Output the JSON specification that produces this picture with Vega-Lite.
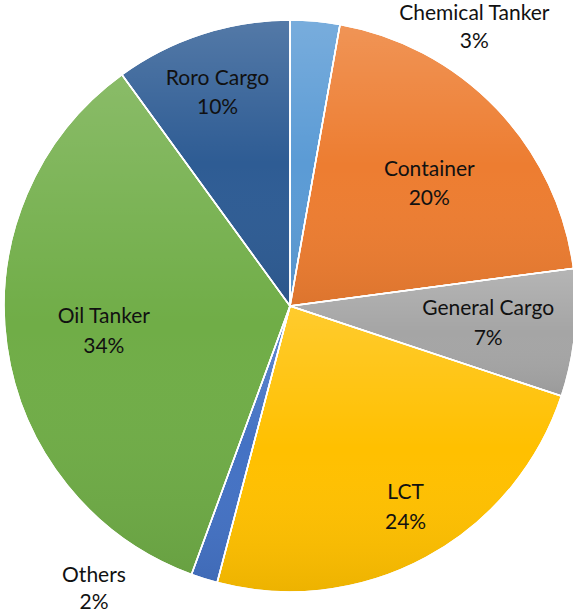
{
  "$schema": "https://vega.github.io/schema/vega-lite/v6.json",
  "width": 580,
  "height": 612,
  "autosize": {"type": "none"},
  "padding": 0,
  "background": "white",
  "data": {
    "values": [
      {"order": 1, "category": "Chemical Tanker", "value": 2.8, "label": "Chemical Tanker\n3%"},
      {"order": 2, "category": "Container", "value": 20.1, "label": "Container\n20%"},
      {"order": 3, "category": "General Cargo", "value": 7.2, "label": "General Cargo\n7%"},
      {"order": 4, "category": "LCT", "value": 24.0, "label": "LCT\n24%"},
      {"order": 5, "category": "Others", "value": 1.5, "label": "Others\n2%"},
      {"order": 6, "category": "Oil Tanker", "value": 34.4, "label": "Oil Tanker\n34%"},
      {"order": 7, "category": "Roro Cargo", "value": 10.0, "label": "Roro Cargo\n10%"}
    ]
  },
  "encoding": {
    "theta": {"field": "value", "type": "quantitative", "stack": true},
    "order": {"field": "order", "type": "quantitative"}
  },
  "layer": [
    {
      "mark": {"type": "arc", "outerRadius": 286, "stroke": "white", "strokeWidth": 1.5},
      "encoding": {
        "color": {
          "field": "category",
          "type": "nominal",
          "scale": {
            "domain": ["Chemical Tanker", "Container", "General Cargo", "LCT", "Others", "Oil Tanker", "Roro Cargo"],
            "range": ["#5B9BD5", "#ED7D31", "#A5A5A5", "#FFC000", "#4472C4", "#70AD47", "#2E5C94"]
          },
          "legend": null
        }
      }
    },
    {
      "mark": {
        "type": "arc",
        "outerRadius": 286,
        "stroke": "white",
        "strokeWidth": 1.5,
        "fill": {
          "gradient": "linear",
          "x1": 0, "y1": 0, "x2": 0, "y2": 1,
          "stops": [
            {"offset": 0, "color": "rgba(255,255,255,0.18)"},
            {"offset": 0.5, "color": "rgba(255,255,255,0)"},
            {"offset": 1, "color": "rgba(0,0,0,0.07)"}
          ]
        }
      }
    },
    {
      "mark": {"type": "text", "radius": 190, "dx": 2, "dy": -5, "font": "Lato", "fontSize": 21, "lineBreak": "\n", "lineHeight": 29, "baseline": "middle", "fill": "#111111"},
      "encoding": {"text": {"condition": {"test": "datum.category === 'Container'", "field": "label"}, "value": ""}}
    },
    {
      "mark": {"type": "text", "radius": 190, "dx": 9, "dy": -15, "font": "Lato", "fontSize": 21, "lineBreak": "\n", "lineHeight": 30, "baseline": "middle", "fill": "#111111"},
      "encoding": {"text": {"condition": {"test": "datum.category === 'General Cargo'", "field": "label"}, "value": ""}}
    },
    {
      "mark": {"type": "text", "radius": 190, "dx": 2, "dy": -15, "font": "Lato", "fontSize": 21, "lineBreak": "\n", "lineHeight": 30, "baseline": "middle", "fill": "#111111"},
      "encoding": {"text": {"condition": {"test": "datum.category === 'Oil Tanker'", "field": "label"}, "value": ""}}
    },
    {
      "mark": {"type": "text", "radius": 228, "dx": 7, "dy": -13, "font": "Lato", "fontSize": 21, "lineBreak": "\n", "lineHeight": 30, "baseline": "middle", "fill": "#111111"},
      "encoding": {"text": {"condition": {"test": "datum.category === 'LCT'", "field": "label"}, "value": ""}}
    },
    {
      "mark": {"type": "text", "radius": 228, "dx": -2, "dy": -10, "font": "Lato", "fontSize": 21, "lineBreak": "\n", "lineHeight": 29, "baseline": "middle", "fill": "#111111"},
      "encoding": {"text": {"condition": {"test": "datum.category === 'Roro Cargo'", "field": "label"}, "value": ""}}
    },
    {
      "mark": {"type": "text", "radius": 300, "dx": 158, "dy": 7, "font": "Lato", "fontSize": 21, "lineBreak": "\n", "lineHeight": 28, "baseline": "middle", "fill": "#111111"},
      "encoding": {"text": {"condition": {"test": "datum.category === 'Chemical Tanker'", "field": "label"}, "value": ""}}
    },
    {
      "mark": {"type": "text", "radius": 300, "dx": -106, "dy": -16, "font": "Lato", "fontSize": 21, "lineBreak": "\n", "lineHeight": 27, "baseline": "middle", "fill": "#111111"},
      "encoding": {"text": {"condition": {"test": "datum.category === 'Others'", "field": "label"}, "value": ""}}
    }
  ],
  "config": {"view": {"stroke": null}}
}
